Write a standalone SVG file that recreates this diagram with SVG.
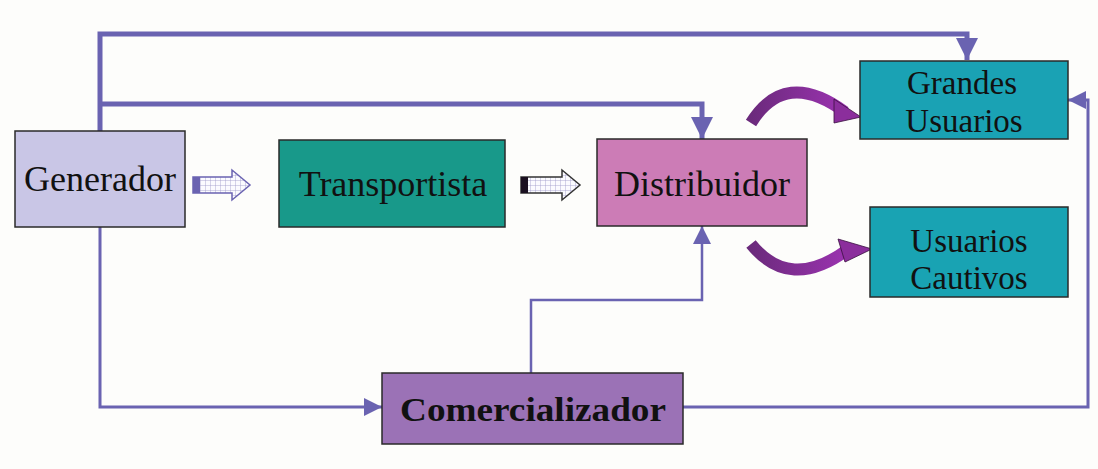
<svg xmlns="http://www.w3.org/2000/svg" width="1098" height="469" viewBox="0 0 1098 469">
<style>
.box{stroke:#2a2a2a;stroke-width:1.5}
.lbl{font-family:"Liberation Serif","DejaVu Serif","Times New Roman",serif;fill:#111;text-anchor:middle}
.ln{fill:none;stroke:#6a63b1;stroke-linejoin:miter}
.curve{fill:none;stroke:url(#pg);stroke-width:12;stroke-linecap:butt}
.head{fill:#8b2e9c;stroke:#3a1040;stroke-width:0.8}
.barrow{stroke:#6a63b1;stroke-width:1.5}
.grid{stroke:#9a96c8;stroke-width:0.8}
</style>
<defs>
<marker id="ah" viewBox="0 0 10 10" refX="10" refY="5" markerWidth="24" markerHeight="22" markerUnits="userSpaceOnUse" orient="auto"><path d="M0,0 L10,5 L0,10 z" fill="#6a63b1"/></marker>
<marker id="as" viewBox="0 0 10 10" refX="10" refY="5" markerWidth="18" markerHeight="18" markerUnits="userSpaceOnUse" orient="auto"><path d="M0,0 L10,5 L0,10 z" fill="#6a63b1"/></marker>
<linearGradient id="pg" x1="0" y1="0" x2="1" y2="0"><stop offset="0" stop-color="#6b2a7c"/><stop offset="1" stop-color="#9b33b0"/></linearGradient>
<pattern id="gp" width="5" height="5" patternUnits="userSpaceOnUse"><rect width="5" height="5" fill="#fbfbff"/><path d="M0,0 H5 M0,0 V5" class="grid"/></pattern>
</defs>
<rect width="1098" height="469" fill="#fdfdfb"/>
<g id="connectors">
<path class="ln" d="M100,131 V34 H967 V60" stroke-width="5" marker-end="url(#ah)"/>
<path class="ln" d="M100,104 H702 V139" stroke-width="5" marker-end="url(#ah)"/>
<path class="ln" d="M100,227 V407 H382" stroke-width="3" marker-end="url(#as)"/>
<path class="ln" d="M531,373 V300 H702 V226" stroke-width="2.5" marker-end="url(#as)"/>
<path class="ln" d="M683,407 H1088 V100 H1068" stroke-width="3" marker-end="url(#as)"/>
<g id="blockarrow1">
<path class="barrow" d="M193,177 H232 V170 L250,185 L232,200 V193 H193 Z" fill="url(#gp)"/>
<rect x="193" y="177" width="7" height="16" fill="#6a63b1"/>
</g>
<g id="blockarrow2">
<path class="barrow" d="M521,177 H562 V170 L580,185 L562,200 V193 H521 Z" fill="url(#gp)" style="stroke:#333"/>
<rect x="521" y="177" width="7" height="16" fill="#1a1020"/>
</g>
<g id="curve-grandes">
<path class="curve" d="M751,123 Q785,68 845,112"/>
<polygon class="head" points="834,99 861,117 834,123"/>
</g>
<g id="curve-cautivos">
<path class="curve" d="M751,244 Q790,292 847,250"/>
<polygon class="head" points="838,239 872,249 845,262"/>
</g>
</g>
<g id="generador">
<rect class="box" x="15" y="131" width="170" height="96" fill="#c9c6e6"/>
<text class="lbl" x="100" y="191" font-size="36" font-family="Liberation Serif, DejaVu Serif, serif">Generador</text>
</g>
<g id="transportista">
<rect class="box" x="279" y="140" width="226" height="87" fill="#18998a"/>
<text class="lbl" x="393" y="196" font-size="36" font-family="Liberation Serif, DejaVu Serif, serif">Transportista</text>
</g>
<g id="distribuidor">
<rect class="box" x="597" y="139" width="210" height="87" fill="#cc7cb6"/>
<text class="lbl" x="702" y="196" font-size="36" font-family="Liberation Serif, DejaVu Serif, serif">Distribuidor</text>
</g>
<g id="grandes-usuarios">
<rect class="box" x="860" y="61" width="208" height="78" fill="#1aa2b4"/>
<text class="lbl" x="962" y="94" font-size="33" font-family="Liberation Serif, DejaVu Serif, serif">Grandes</text>
<text class="lbl" x="964" y="132" font-size="33" font-family="Liberation Serif, DejaVu Serif, serif">Usuarios</text>
</g>
<g id="usuarios-cautivos">
<rect class="box" x="870" y="207" width="198" height="90" fill="#19a3b3"/>
<text class="lbl" x="969" y="252" font-size="33" font-family="Liberation Serif, DejaVu Serif, serif">Usuarios</text>
<text class="lbl" x="969" y="289" font-size="33" font-family="Liberation Serif, DejaVu Serif, serif">Cautivos</text>
</g>
<g id="comercializador">
<rect class="box" x="382" y="373" width="301" height="71" fill="#9b72b6"/>
<text class="lbl" x="533" y="421" font-size="33" font-weight="bold" textLength="266" lengthAdjust="spacingAndGlyphs" font-family="Liberation Serif, DejaVu Serif, serif">Comercializador</text>
</g>
</svg>
